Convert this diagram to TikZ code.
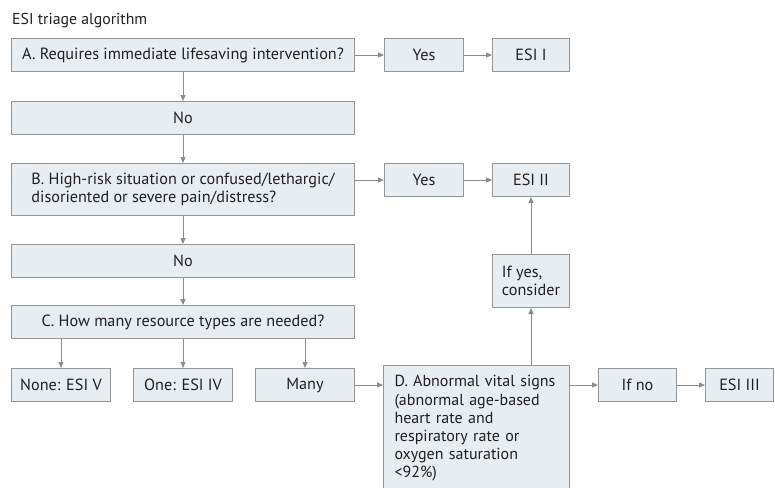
\documentclass[tikz,border=0pt]{standalone}
\usepackage{fontspec}
\setmainfont{PT Sans}
\usetikzlibrary{arrows.meta}
\definecolor{boxfill}{HTML}{E7EDF1}
\definecolor{boxline}{HTML}{969696}
\definecolor{arrowc}{HTML}{8C8C8C}
\definecolor{txt}{HTML}{231F20}
\begin{document}
\begin{tikzpicture}[x=1pt,y=-1pt,
  box/.style={draw=boxline, fill=boxfill, line width=1pt, inner sep=0pt,
    text=txt, font=\fontsize{16.2}{18}\selectfont, anchor=north west},
  arr/.style={draw=arrowc, line width=1pt, -{Triangle[length=6pt,width=5pt]}}]
\useasboundingbox (0,0) rectangle (775,487);
\clip (0,0) rectangle (775,487);
\node[anchor=base west, text=txt, font=\fontsize{15.8}{17}\selectfont, inner sep=0pt] (title) at (12,25) {ESI triage algorithm};
% row A
\node[box, minimum width=343pt, minimum height=33pt] (A) at (11,38) {A. Requires immediate lifesaving intervention?};
\node[box, minimum width=79pt, minimum height=33pt] (yes1) at (384,38) {Yes};
\node[box, minimum width=77pt, minimum height=33pt] (esi1) at (492,38) {ESI I};
\node[box, minimum width=343pt, minimum height=33pt] (no1) at (11,101) {No};
% row B
\node[box, minimum width=343pt, minimum height=52pt, align=left] (B) at (11,163) {B. High-risk situation or confused/lethargic/\\disoriented or severe pain/distress?};
\node[box, minimum width=79pt, minimum height=33pt] (yes2) at (384,163) {Yes};
\node[box, minimum width=77pt, minimum height=33pt] (esi2) at (492,163) {ESI II};
\node[box, minimum width=343pt, minimum height=33pt] (no2) at (11,244) {No};
% row C
\node[box, minimum width=343pt, minimum height=33pt] (C) at (11,305) {C. How many resource types are needed?};
\node[box, minimum width=99pt, minimum height=33pt] (none) at (11,368) {None: ESI V};
\node[box, minimum width=99pt, minimum height=33pt] (one) at (133,368) {One: ESI IV};
\node[box, minimum width=99pt, minimum height=33pt] (many) at (255,368) {Many};
% D
\node[box, text width=164pt, inner xsep=11pt, inner ysep=10pt, align=left,
  font=\fontsize{16}{18.2}\selectfont] (D) at (383,365)
  {D.~Abnormal vital~signs\\(abnormal age-based\\heart rate and\\respiratory rate or\\oxygen saturation\\<92\%)\\[16pt]\mbox{}};
\node[box, minimum width=77pt, minimum height=53pt, align=left] (ifyes) at (492,254) {If yes,\\consider};
\node[box, minimum width=78pt, minimum height=33pt] (ifno) at (598,368) {If no};
\node[box, minimum width=68pt, minimum height=33pt] (esi3) at (705,368) {ESI III};
% arrows
\draw[arr] (A) -- (yes1);
\draw[arr] (yes1) -- (esi1);
\draw[arr] (A) -- (no1);
\draw[arr] (no1) -- (B);
\draw[arr] (B.east |- yes2.west) -- (yes2);
\draw[arr] (yes2) -- (esi2);
\draw[arr] (B) -- (no2);
\draw[arr] (no2) -- (C);
\draw[arr] (C.south -| none.north) -- (none);
\draw[arr] (C) -- (one);
\draw[arr] (C.south -| many.north) -- (many);
\draw[arr] (many.east) -- (many.east -| D.west);
\draw[arr] (D.north -| ifyes.south) -- (ifyes);
\draw[arr] (ifyes) -- (esi2);
\draw[arr] (ifno.west -| D.east) -- (ifno);
\draw[arr] (ifno) -- (esi3);
\end{tikzpicture}
\end{document}
